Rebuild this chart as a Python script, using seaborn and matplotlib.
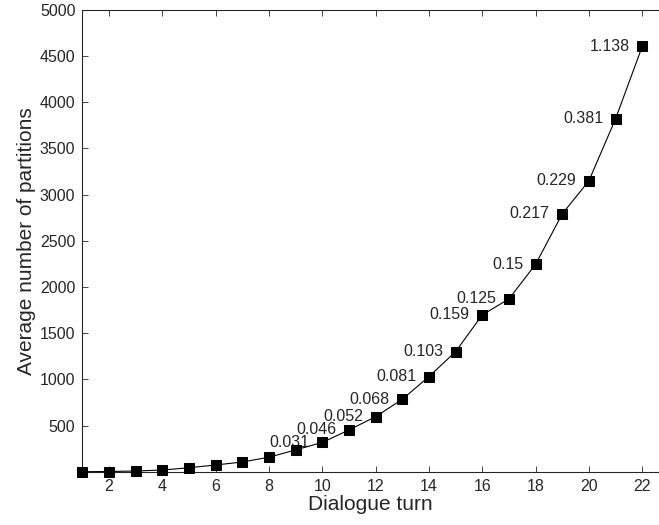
import seaborn as sns
import matplotlib.pyplot as plt
import pandas as pd

# values
turns = list(range(1, 23))
partitions = [0, 2, 8, 18, 43, 73, 105, 157, 236, 317, 452, 596, 784, 1030,
              1300, 1698, 1871, 2245, 2792, 3150, 3821, 4605]
label_turns = [10, 11, 12, 13, 14, 15, 16, 17, 18, 19, 20, 21, 22]
label_texts = ['0.031', '0.046', '0.052', '0.068', '0.081', '0.103', '0.159',
               '0.125', '0.15', '0.217', '0.229', '0.381', '1.138']

data = pd.DataFrame({'turn': turns, 'partitions': partitions})

sns.set_style('ticks')
plt.rcParams['font.family'] = ['Liberation Sans', 'DejaVu Sans']

fig = plt.figure(figsize=(6.59, 5.25), dpi=100)
ax = fig.add_axes([0.125, 0.1015, 0.875, 0.8795])

sns.lineplot(x='turn', y='partitions', data=data, ax=ax, color='black',
             marker='s', markersize=7, markeredgecolor='black', linewidth=0.8,
             clip_on=False, zorder=5)

# annotate the later turns, text sits to the left of each marker
for t, txt in zip(label_turns, label_texts):
    y = data.loc[data['turn'] == t, 'partitions'].iloc[0]
    ax.annotate(txt, (t, y), xytext=(-9, 0), textcoords='offset points',
                ha='right', va='center', fontsize=11.5)

ax.set_xlim(1, 22.63)
ax.set_ylim(0, 5000)
ax.set_xticks(range(2, 23, 2))
ax.set_yticks(range(500, 5001, 500))
ax.tick_params(direction='in', length=4, labelsize=11.5, top=True, width=0.6,
               pad=5)
ax.spines['right'].set_visible(False)
for s in ['left', 'bottom', 'top']:
    ax.spines[s].set_linewidth(0.8)
ax.set_xlabel('Dialogue turn', fontsize=15, labelpad=1)
ax.set_ylabel('Average number of partitions', fontsize=15, labelpad=3)

fig.savefig('out.png', dpi=100)
